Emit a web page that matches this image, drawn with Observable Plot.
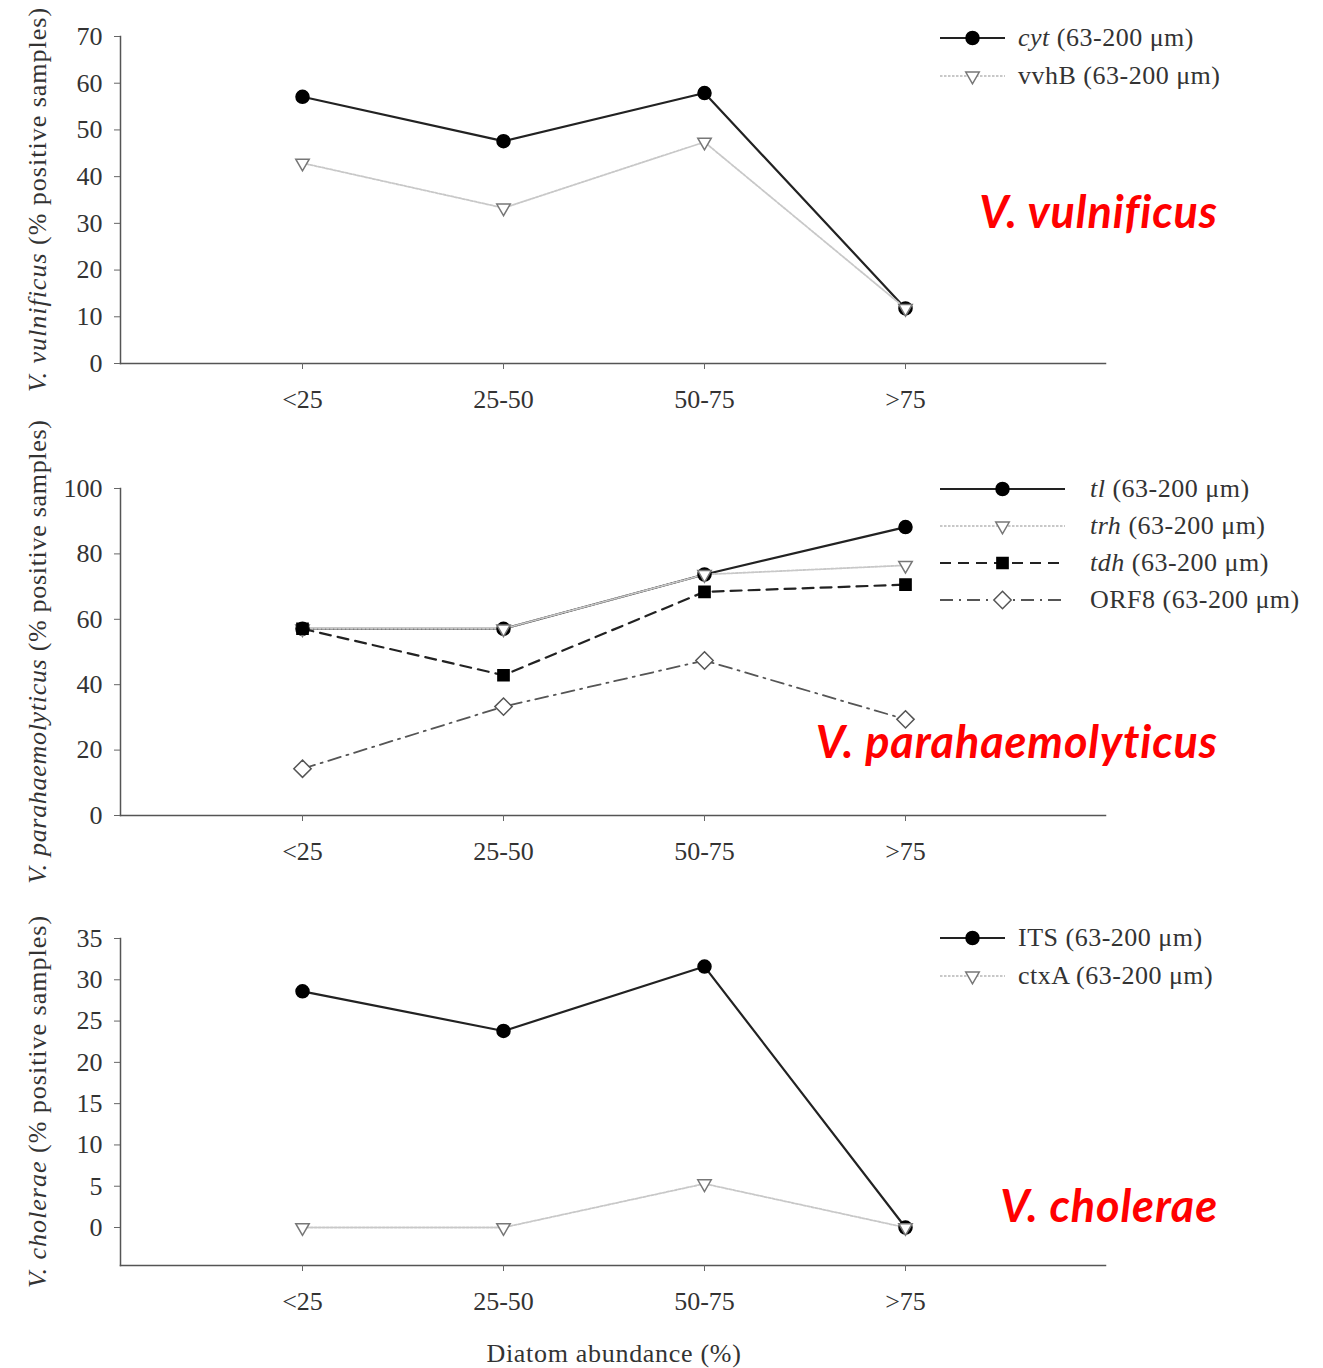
<!DOCTYPE html>
<html><head><meta charset="utf-8">
<script src="https://cdn.jsdelivr.net/npm/d3@7"></script>
<script src="https://cdn.jsdelivr.net/npm/@observablehq/plot@0.6"></script>
<style>
body{margin:0;background:#fff;}
#chart{width:1323px;}
#chart svg{display:block;}
</style></head><body><div id="chart"></div>
<script>
// ---- data ----
const categories = ["<25", "25-50", "50-75", ">75"];
const cyt  = [57.1, 47.6, 57.9, 11.8];
const vvhB = [42.9, 33.3, 47.4, 11.8];
const tl   = [57.1, 57.1, 73.7, 88.2];
const trh  = [57.1, 57.1, 73.7, 76.5];
const tdh  = [57.1, 42.9, 68.4, 70.6];
const orf8 = [14.3, 33.3, 47.4, 29.4];
const its  = [28.6, 23.8, 31.6, 0];
const ctxA = [0, 0, 5.3, 0];
const ticksVV = [0, 10, 20, 30, 40, 50, 60, 70];
const ticksVP = [0, 20, 40, 60, 80, 100];
const ticksVC = [0, 5, 10, 15, 20, 25, 30, 35];
const xTitle = "Diatom abundance (%)";

// ---- styles ----
const S = {
  solidDot:  {stroke:"#222", width:2.2, dash:null, symbol:"circle", fill:"#000", mstroke:"#000", rotate:0, r:6.5},
  grayTri:   {stroke:"#c8c8c8", width:1.8, dash:"2.5 1.5", symbol:"triangle", fill:"#fff", mstroke:"#777", rotate:180, r:5},
  dashSq:    {stroke:"#222", width:2.2, dash:"11 7", symbol:"square", fill:"#000", mstroke:"#000", rotate:0, r:6.3},
  dashDotDi: {stroke:"#555", width:1.8, dash:"13 6 2 6", symbol:"diamond2", fill:"#fff", mstroke:"#555", rotate:0, r:7.8}
};

const FONT = "'Liberation Serif', 'DejaVu Serif', serif";
const chart = document.getElementById("chart");

function makePanel(cfg) {
  const W = 1323, ML = 120, MR = 218;
  const data = cfg.series.map(s => categories.map((c, i) => ({cat: c, v: s.values[i]})));
  const marks = [
    Plot.frame({anchor: "left", stroke: "#555", strokeWidth: 1.5}),
    Plot.frame({anchor: "bottom", stroke: "#555", strokeWidth: 1.5}),
    Plot.axisY({ticks: cfg.ticks, tickSize: 6, tickPadding: 12, fontSize: 26, label: null, stroke: "#666"}),
    Plot.axisX({tickSize: 6, tickPadding: 20, fontSize: 26, label: null, stroke: "#666"})
  ];
  cfg.series.forEach((s, k) => {
    const st = s.style;
    marks.push(Plot.line(data[k], {x: "cat", y: "v", stroke: st.stroke, strokeWidth: st.width, strokeDasharray: st.dash}));
  });
  cfg.series.forEach((s, k) => {
    const st = s.style;
    marks.push(Plot.dot(data[k], {x: "cat", y: "v", symbol: st.symbol, r: st.r, fill: st.fill, stroke: st.mstroke, strokeWidth: 1.5, rotate: st.rotate}));
  });
  const svgEl = Plot.plot({
    width: W, height: cfg.height,
    marginLeft: ML, marginRight: MR, marginTop: cfg.mt, marginBottom: cfg.mb,
    style: {fontFamily: FONT, color: "#333", background: "#fff"},
    x: {type: "point", domain: categories, range: [302, 905], padding: 0},
    y: {domain: cfg.domain},
    marks
  });
  const svg = d3.select(svgEl);
  const frameMid = (cfg.mt + (cfg.height - cfg.mb)) / 2;
  // y axis title
  const yt = svg.append("text")
    .attr("transform", `translate(46,${frameMid}) rotate(-90)`)
    .attr("text-anchor", "middle").attr("letter-spacing", cfg.yls)
    .attr("font-family", FONT).attr("font-size", 26).attr("fill", "#333");
  yt.append("tspan").attr("font-style", "italic").text(cfg.yItalic);
  yt.append("tspan").text(" (% positive samples)");
  // legend
  const symMap = {circle: d3.symbolCircle, triangle: d3.symbolTriangle, square: d3.symbolSquare, diamond2: d3.symbolDiamond2};
  cfg.series.forEach((s, k) => {
    const st = s.style;
    const y = cfg.legY + k * cfg.legStep;
    const g = svg.append("g");
    g.append("line").attr("x1", 940).attr("x2", cfg.legX2).attr("y1", y).attr("y2", y)
      .attr("stroke", st.stroke).attr("stroke-width", st.width).attr("stroke-dasharray", st.dash);
    const cx = (940 + cfg.legX2) / 2;
    g.append("path").attr("d", d3.symbol(symMap[st.symbol], Math.PI * st.r * st.r)())
      .attr("transform", `translate(${cx},${y}) rotate(${st.rotate})`)
      .attr("fill", st.fill).attr("stroke", st.mstroke).attr("stroke-width", 1.5);
    const t = g.append("text").attr("x", cfg.legTextX).attr("y", y + 8)
      .attr("text-anchor", "start").attr("letter-spacing", 0.5)
      .attr("font-family", FONT).attr("font-size", 26).attr("fill", "#333");
    t.append("tspan").attr("font-style", s.italic ? "italic" : "normal").text(s.name);
    t.append("tspan").text(" (63-200 μm)");
  });
  // species label
  svg.append("text").attr("x", 1218).attr("y", cfg.spY).attr("text-anchor", "end")
    .attr("font-family", "Lato, 'Open Sans', sans-serif").attr("font-weight", "bold").attr("font-style", "italic")
    .attr("letter-spacing", 0.9)
    .attr("font-size", 45).attr("fill", "#ff0000").text(cfg.species);
  if (cfg.xTitle) {
    svg.append("text").attr("x", 614).attr("y", cfg.height - 6).attr("text-anchor", "middle")
      .attr("letter-spacing", 0.7)
      .attr("font-family", FONT).attr("font-size", 26).attr("fill", "#333").text(cfg.xTitle);
  }
  chart.appendChild(svgEl);
}

// panel 1: page y 0..418
makePanel({
  height: 418, mt: 36, mb: 55, domain: [0, 70], ticks: ticksVV, yls: 1,
  yItalic: "V. vulnificus", species: "V. vulnificus", spY: 228,
  legY: 38, legStep: 38, legX2: 1005, legTextX: 1018,
  series: [
    {name: "cyt", italic: true, values: cyt, style: S.solidDot},
    {name: "vvhB", italic: false, values: vvhB, style: S.grayTri}
  ]
});
// panel 2: page y 418..885
makePanel({
  height: 467, mt: 70, mb: 70, domain: [0, 100], ticks: ticksVP, yls: 0.7,
  yItalic: "V. parahaemolyticus", species: "V. parahaemolyticus", spY: 340,
  legY: 71, legStep: 37, legX2: 1065, legTextX: 1090,
  series: [
    {name: "tl", italic: true, values: tl, style: S.solidDot},
    {name: "trh", italic: true, values: trh, style: S.grayTri},
    {name: "tdh", italic: true, values: tdh, style: S.dashSq},
    {name: "ORF8", italic: false, values: orf8, style: S.dashDotDi}
  ]
});
// panel 3: page y 885..1368
makePanel({
  height: 483, mt: 53, mb: 103, domain: [-4.6, 35], ticks: ticksVC, yls: 1,
  yItalic: "V. cholerae", species: "V. cholerae", spY: 337,
  legY: 53, legStep: 38, legX2: 1005, legTextX: 1018, xTitle: xTitle,
  series: [
    {name: "ITS", italic: false, values: its, style: S.solidDot},
    {name: "ctxA", italic: false, values: ctxA, style: S.grayTri}
  ]
});
</script></body></html>
